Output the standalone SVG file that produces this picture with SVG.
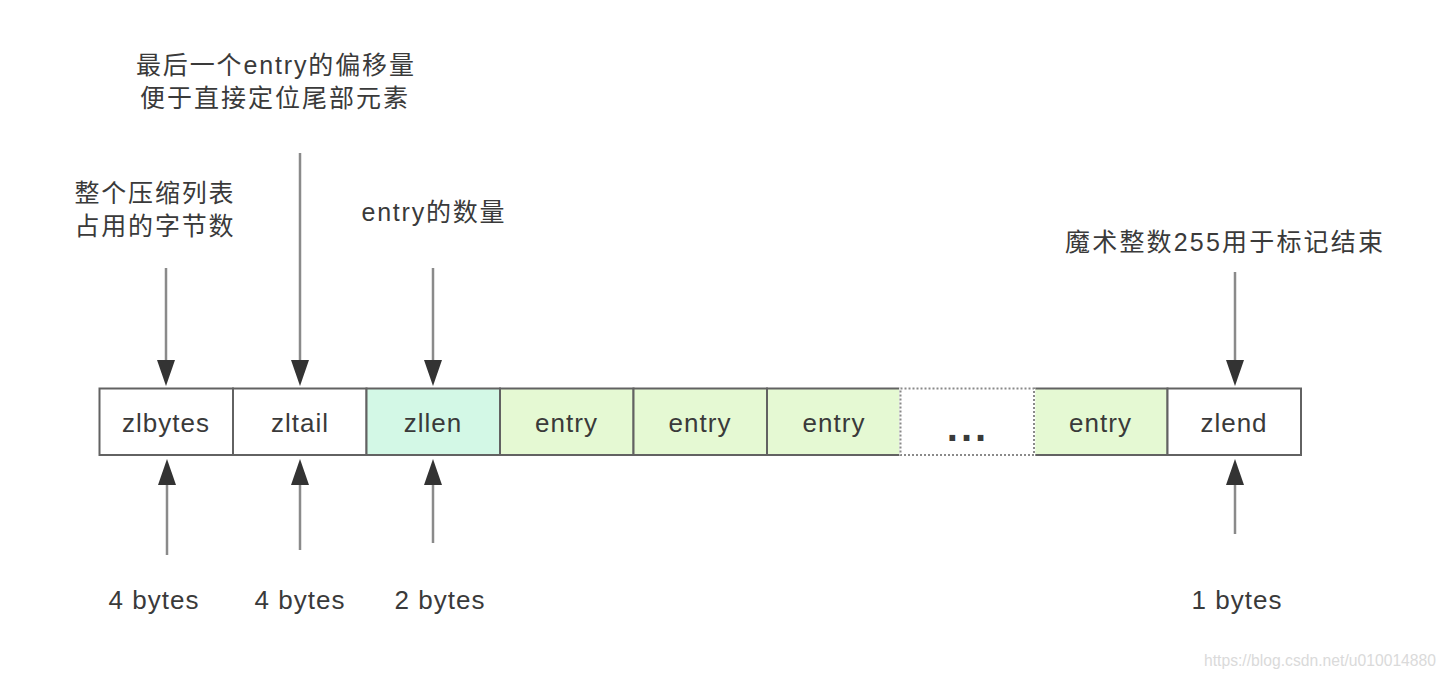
<svg xmlns="http://www.w3.org/2000/svg" width="1448" height="680" viewBox="0 0 1448 680">
  <style>
    text { font-family: "Liberation Sans", "Noto Sans CJK SC", sans-serif; fill: #3a3a3a; }
    .lbl { font-size: 26px; text-anchor: middle; letter-spacing: 1px; }
    .cn { font-size: 25px; text-anchor: middle; }
    .cell { stroke: #626262; stroke-width: 2; }
    .white { fill: #ffffff; }
    .mint { fill: #d3f8e6; }
    .green { fill: #e5f9d3; }
    .shaft { stroke: #8a8a8a; stroke-width: 2.5; fill: none; }
    .wm { font-size: 15.7px; fill: #dadada; }
  </style>
  <defs>
    <marker id="ah" markerUnits="userSpaceOnUse" markerWidth="28" markerHeight="20" refX="0" refY="9" orient="auto" viewBox="0 0 28 18">
      <path d="M0,0 L26,9 L0,18 z" fill="#333333"/>
    </marker>
  </defs>
  <rect width="1448" height="680" fill="#ffffff"/>

  <g id="zlbytes">
    <rect class="cell white" x="99.5" y="388.5" width="133.5" height="66.5"/>
    <text class="lbl" x="166" y="432">zlbytes</text>
  </g>
  <g id="zltail">
    <rect class="cell white" x="233" y="388.5" width="133.5" height="66.5"/>
    <text class="lbl" x="300" y="432">zltail</text>
  </g>
  <g id="zllen">
    <rect class="cell mint" x="366.5" y="388.5" width="133.5" height="66.5"/>
    <text class="lbl" x="433" y="432">zllen</text>
  </g>
  <g id="entry1">
    <rect class="cell green" x="500" y="388.5" width="133.5" height="66.5"/>
    <text class="lbl" x="566.5" y="432">entry</text>
  </g>
  <g id="entry2">
    <rect class="cell green" x="633.5" y="388.5" width="133.5" height="66.5"/>
    <text class="lbl" x="700" y="432">entry</text>
  </g>
  <g id="entry3">
    <rect class="cell green" x="767" y="388.5" width="133.5" height="66.5"/>
    <text class="lbl" x="834" y="432">entry</text>
  </g>
  <g id="entry4">
    <rect class="cell green" x="1034" y="388.5" width="133.5" height="66.5"/>
    <text class="lbl" x="1100.5" y="432">entry</text>
  </g>
  <g id="zlend">
    <rect class="cell white" x="1167.5" y="388.5" width="133.5" height="66.5"/>
    <text class="lbl" x="1234" y="432">zlend</text>
  </g>
  <g id="ellipsis">
    <rect x="900.5" y="388.5" width="133.5" height="66.5" fill="#ffffff" stroke="#ffffff" stroke-width="2.6"/>
    <rect x="900.5" y="388.5" width="133.5" height="66.5" fill="none" stroke="#8a8a8a" stroke-width="2" stroke-dasharray="2 2"/>
    <text x="968" y="441" font-size="40" font-weight="bold" text-anchor="middle" letter-spacing="3" fill="#222222">...</text>
  </g>

  <g id="label-zlbytes">
    <text class="cn" x="154" y="202" textLength="159" lengthAdjust="spacing">整个压缩列表</text>
    <text class="cn" x="154" y="235" textLength="159" lengthAdjust="spacing">占用的字节数</text>
  </g>
  <g id="label-zltail">
    <text class="cn" x="275" y="74" textLength="278" lengthAdjust="spacing">最后一个entry的偏移量</text>
    <text class="cn" x="274" y="107" textLength="268" lengthAdjust="spacing">便于直接定位尾部元素</text>
  </g>
  <g id="label-zllen">
    <text class="cn" x="433" y="221" textLength="143" lengthAdjust="spacing">entry的数量</text>
  </g>
  <g id="label-zlend">
    <text class="cn" x="1224" y="251" textLength="318" lengthAdjust="spacing">魔术整数255用于标记结束</text>
  </g>
  <g id="size-labels">
    <text class="lbl" x="154" y="609">4 bytes</text>
    <text class="lbl" x="300" y="609">4 bytes</text>
    <text class="lbl" x="440" y="609">2 bytes</text>
    <text class="lbl" x="1237" y="609">1 bytes</text>
  </g>

  <g id="connectors">
    <line class="shaft" x1="166" y1="268" x2="166" y2="360" marker-end="url(#ah)"/>
    <line class="shaft" x1="300" y1="153" x2="300" y2="360" marker-end="url(#ah)"/>
    <line class="shaft" x1="433" y1="268" x2="433" y2="360" marker-end="url(#ah)"/>
    <line class="shaft" x1="1235" y1="272" x2="1235" y2="360" marker-end="url(#ah)"/>
    <line class="shaft" x1="167" y1="555" x2="167" y2="485" marker-end="url(#ah)"/>
    <line class="shaft" x1="300" y1="550" x2="300" y2="485" marker-end="url(#ah)"/>
    <line class="shaft" x1="433" y1="543" x2="433" y2="485" marker-end="url(#ah)"/>
    <line class="shaft" x1="1235" y1="534" x2="1235" y2="485" marker-end="url(#ah)"/>
  </g>

  <text class="wm" x="1204" y="666">https://blog.csdn.net/u010014880</text>
</svg>
